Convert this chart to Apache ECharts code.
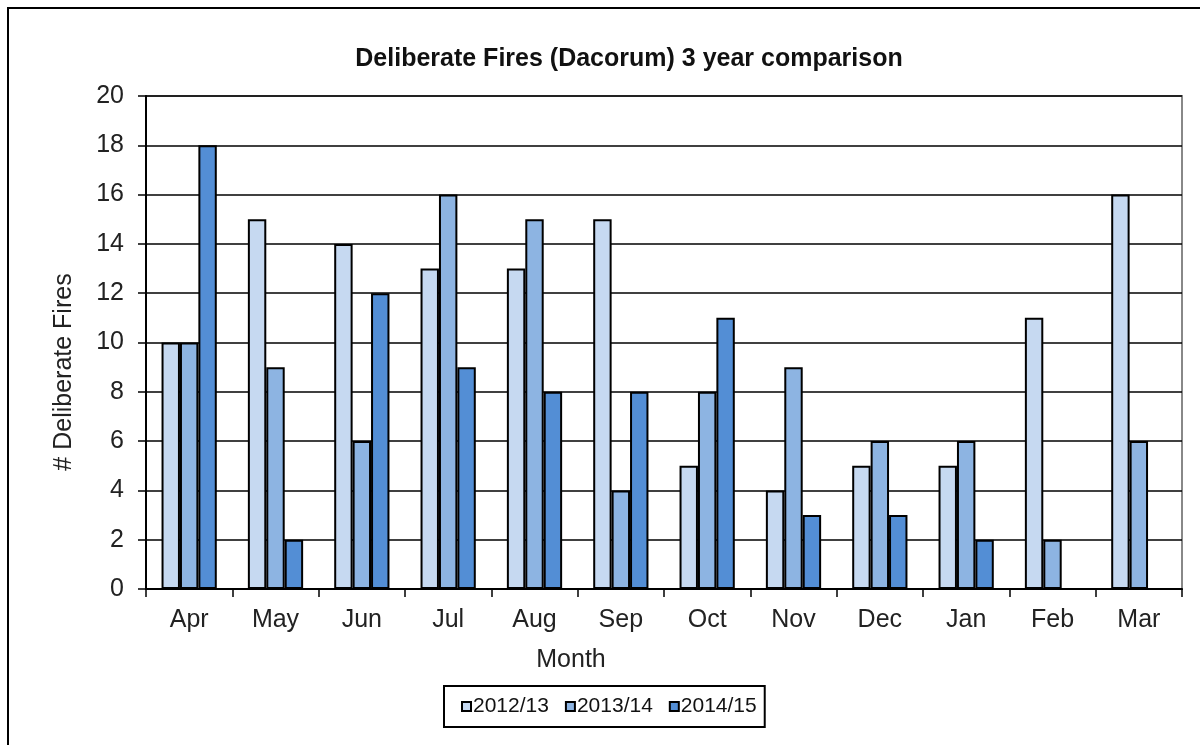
<!DOCTYPE html>
<html><head><meta charset="utf-8">
<script src="https://cdn.jsdelivr.net/npm/echarts@6/dist/echarts.min.js"></script>
<style>html,body{margin:0;padding:0;background:#fff}#c{width:1200px;height:745px}</style>
</head><body><div id="c"></div>
<script>
const months = ['Apr','May','Jun','Jul','Aug','Sep','Oct','Nov','Dec','Jan','Feb','Mar'];
const seriesNames = ['2012/13','2013/14','2014/15'];
const v2012 = [10,15,14,13,13,15,5,4,5,5,11,16];
const v2013 = [10,9,6,16,15,4,8,9,6,6,2,6];
const v2014 = [18,2,12,9,8,8,11,3,3,2,0,0];
const yTicks = [0,2,4,6,8,10,12,14,16,18,20];
const colors = ['#c6d9f1','#8db4e2','#538ed5'];
const font = '"Liberation Sans", Arial, sans-serif';
const chart = echarts.init(document.getElementById('c'));
const mk = (name, data, i) => ({
  name, type:'bar', data, barGap:'0%', barCategoryGap:'36%',
  itemStyle:{color:colors[i], borderColor:'#000', borderWidth:2},
  emphasis:{disabled:true}, animation:false
});
chart.setOption({
  animation:false,
  textStyle:{fontFamily:font},
  title:{text:'Deliberate Fires (Dacorum) 3 year comparison', left:624, top:42, textAlign:'center',
    textStyle:{fontFamily:font, fontSize:25, fontWeight:'bold', color:'#111'}},
  grid:{left:146, right:18, top:96, bottom:156, show:true, borderColor:'#888', borderWidth:2},
  legend:{data:seriesNames, left:444, top:686, orient:'horizontal', itemWidth:9, itemHeight:9, itemGap:16,
    icon:'rect', padding:[10,8,10,17], borderColor:'#000', borderWidth:2,
    textStyle:{fontFamily:font, fontSize:21, color:'#111', padding:[0,0,0,-3]},
    itemStyle:{borderColor:'#000', borderWidth:2}},
  xAxis:{type:'category', data:months,
    axisLine:{lineStyle:{color:'#000', width:2}},
    axisTick:{show:true, length:8, lineStyle:{color:'#000', width:1.5}},
    axisLabel:{fontSize:25, color:'#222', margin:19, fontFamily:font}},
  yAxis:{type:'value', min:0, max:20, interval:2,
    axisLine:{show:true, lineStyle:{color:'#000', width:2}},
    axisTick:{show:true, length:8, lineStyle:{color:'#000', width:1.5}},
    splitLine:{lineStyle:{color:'#000', width:1.5}},
    axisLabel:{fontSize:25, color:'#222', margin:22, fontFamily:font,
      formatter:v => yTicks.includes(v) ? String(v) : ''}},
  graphic:[
    {type:'rect', shape:{x:8, y:8, width:1210, height:760}, style:{fill:'none', stroke:'#000', lineWidth:2}, silent:true},
    {type:'text', x:571, y:660, style:{text:'Month', fontSize:25, fontFamily:font, fill:'#222', align:'center', verticalAlign:'middle'}},
    {type:'text', x:64, y:372, rotation:Math.PI/2, style:{text:'# Deliberate Fires', fontSize:25, fontFamily:font, fill:'#222', align:'center', verticalAlign:'middle'}}
  ],
  series:[mk(seriesNames[0], v2012, 0), mk(seriesNames[1], v2013, 1), mk(seriesNames[2], v2014, 2)]
});
</script></body></html>
